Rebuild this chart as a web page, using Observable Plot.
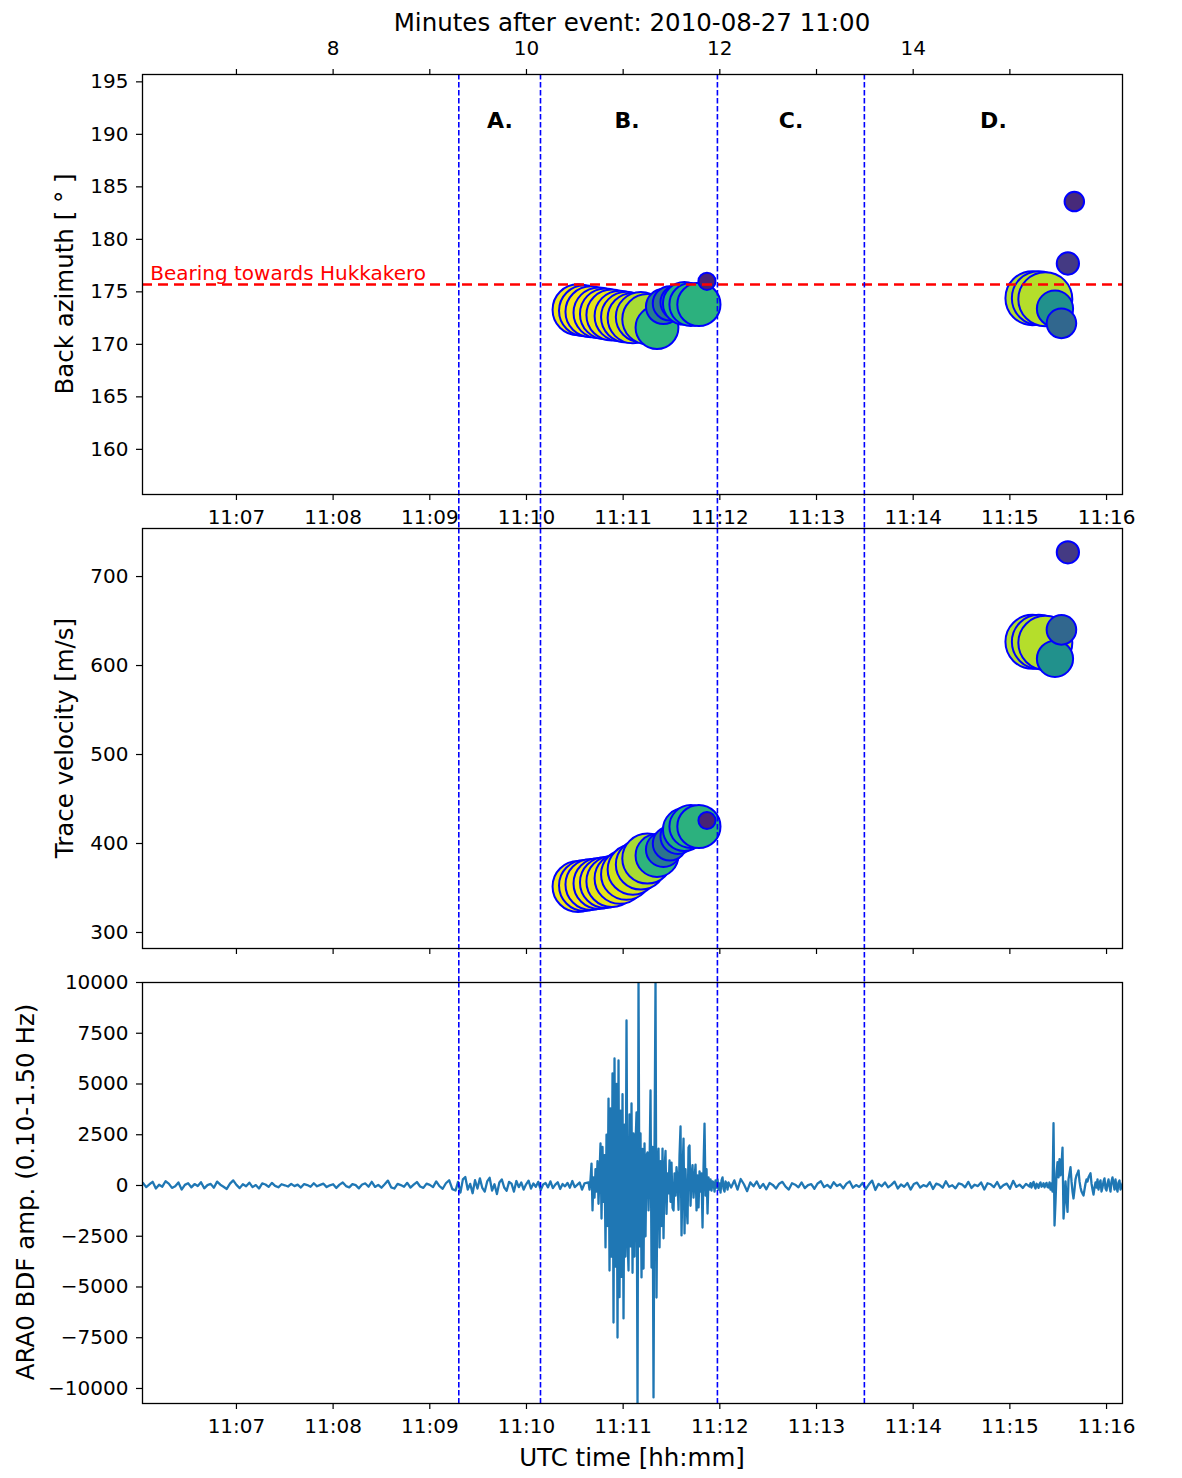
<!DOCTYPE html>
<html><head><meta charset="utf-8">
<script src="https://cdn.jsdelivr.net/npm/d3@7"></script>
<script src="https://cdn.jsdelivr.net/npm/@observablehq/plot@0.6"></script>
<style>
body{margin:0;background:#fff;}
#wrap{position:relative;width:1182px;height:1478px;font-family:"DejaVu Sans",sans-serif;background:#fff;}
#wrap svg{position:absolute;left:0;}
</style></head><body><div id="wrap"></div>
<script>
// ---------- data ----------
const eventLabel = "Minutes after event: 2010-08-27 11:00";
const xStart = "11:06:01.7", xEnd = "11:16:09.9";
const minuteTicks = ["11:07","11:08","11:09","11:10","11:11","11:12","11:13","11:14","11:15","11:16"];
const topTicks = ["11:07","11:08","11:09","11:10","11:11","11:12","11:13","11:14","11:15"];
const regionBounds = ["11:09:18","11:10:08.7","11:11:58.5","11:13:29.7"];
const regionNames = ["A.","B.","C.","D."];
const regionLabelTimes = ["11:09:43.5","11:11:02.4","11:12:44.2","11:14:49.8"];
const regionLabelBaz = 191.3;
const bearing = 175.7;
const bearingText = "Bearing towards Hukkakero";
const bearingTextTime = "11:06:06.5";

const bazTicks = [160,165,170,175,180,185,190,195];
const velTicks = [300,400,500,600,700];
const ampTicks = [-10000,-7500,-5000,-2500,0,2500,5000,7500,10000];

// detections (group B then group D)
const detTimes = ["11:10:32","11:10:36","11:10:40","11:10:45","11:10:49","11:10:53","11:10:58","11:11:02","11:11:06","11:11:11","11:11:15","11:11:21","11:11:25","11:11:29","11:11:34","11:11:38","11:11:42","11:11:47","11:11:52",
  "11:15:14","11:15:18","11:15:22","11:15:28","11:15:32","11:15:36","11:15:40"];
const detBaz = [173.3,173.2,173.1,173.0,172.9,172.8,172.7,172.6,172.5,172.6,172.4,171.6,173.6,173.9,174.0,173.9,173.8,173.8,176.0,
  174.4,174.4,174.3,173.4,172.0,177.7,183.6];
const detVel = [351.7,352.8,353.9,355.1,356.2,357.3,360.7,365.2,370.8,376.4,383.1,386.5,393.3,400.0,407.9,415.7,419.1,419.1,425.8,
  626.6,626.6,625.5,607.5,640.1,727.3,null];
const detCorr = [0.97,0.98,0.98,0.97,0.97,0.96,0.96,0.95,0.93,0.90,0.87,0.65,0.42,0.38,0.45,0.62,0.63,0.64,0.10,
  0.88,0.89,0.89,0.50,0.33,0.17,0.12];
const detPower = [0.89,0.89,0.89,0.89,0.89,0.89,0.88,0.88,0.87,0.86,0.86,0.63,0.42,0.40,0.42,0.63,0.63,0.64,0.10,
  1.0,1.0,1.0,0.45,0.30,0.17,0.13];

// waveform segments: [start, end] and values
const wave1Span = ["11:06:02","11:09:14"];
const wave1 = [120,-80,60,180,-150,40,-60,210,90,-120,-40,150,-200,30,110,-90,70,-30,160,-140,20,80,-110,190,40,-60,-170,90,250,30,-130,60,-40,140,-80,20,-150,100,50,-70,130,-20,-90,60,10,-50,80,-30,40,-100,70,20,-60,110,-40,30,90,-80,10,60,-120,40,150,-30,-90,70,20,-140,50,100,-60,180,-70,30,-110,60,240,-90,-150,80,20,-60,130,-100,40,170,-50,-120,90,30,-80,200,-30,-160,110,260,-180];
const wave2Span = ["11:09:16","11:10:36"];
const wave2 = [-250,180,-350,300,420,-200,80,-380,260,-150,350,-120,-300,200,380,-250,60,-420,150,300,-100,-260,180,90,-300,220,-80,150,-200,60,240,-150,100,-60,180,-220,50,120,-90,200,-130,40,160,-170,70,-40,130,-110,220,-80,30,150,-200,100];
const wave3Span = ["11:10:38.5","11:12:05.4"];
const wave3 = [150,-200,300,1080,-1230,400,-600,800,-300,1200,-900,600,2070,-1630,1900,-800,1500,-3050,2500,-2000,
  4280,-4190,3800,-3500,5520,-6750,6260,-4000,5000,-7490,6160,-5500,3690,-4500,4500,-6550,3000,-3500,8130,-2500,
  -4190,3500,-3000,4040,-4300,2560,-3500,2000,3600,-10800,10100,-3000,2560,-4530,1800,-4090,2070,-2500,1500,1630,
  -1230,800,4680,-4040,1900,-10440,1700,10100,-5520,1000,1820,-3050,1200,-2000,1820,-2600,800,1700,-1400,600,
  -390,1230,-800,1130,-1100,-1230,600,-500,900,250,-1200,1500,2910,-2460,500,2310,-2360,800,-900,-1870,
  1870,1970,-1000,400,1000,-600,300,1030,-1230,500,-1080,700,-300,600,-2070,900,3050,-500,800,-1380,
  400,-200,300,-250,200,150,-300,250,-100,300,-200,100,-350,250,400,-150,-300,200,100,-200,150];
const wave4Span = ["11:12:07","11:15:10"];
const wave4 = [-100,250,-200,320,60,-280,150,-40,200,-120,80,-190,120,30,-150,90,180,-60,-200,110,40,-90,150,-130,20,70,-160,100,210,-80,30,-120,160,-30,60,-140,90,200,-110,20,-70,130,-180,60,240,-220,80,-40,150,-90,30,190,-150,50,-60,120,-200,70,140,-100,20,-50,160,-170,90,30,-110,210,-60,10,-140,100,60,-90,180,-120,40,-30,150,-200,110,60,-80,170,-130,20,90,-160,230,-70,40,-120,80];
const wave5Span = ["11:15:12.2","11:16:09.9"];
const wave5 = [-50,120,-100,60,180,-40,-150,90,30,-120,80,150,-60,-20,110,-90,40,130,-70,
  -100,150,-200,100,-300,3070,-1970,-800,600,1150,400,1300,500,1000,1870,-1630,-900,200,-600,-1300,
  300,600,900,200,-300,-640,-200,300,500,600,740,200,-100,-300,-400,-490,-200,100,300,200,
  400,500,600,100,-200,-450,-100,150,-100,300,-200,100,250,-300,-100,200,350,-150,-250,100,
  300,-50,-300,200,400,100,-200,300,-100,-300,150,250,-200,-100,100];

// ---------- build ----------
const parseT = s => { const [h,m,sec] = s.split(":").map(Number); return new Date(Date.UTC(2010,7,27,h,m) + (sec||0)*1000); };
const xDomain = [parseT(xStart), parseT(xEnd)];
const dets = detTimes.map((t,i)=>({t: parseT(t), baz: detBaz[i], vel: detVel[i], corr: detCorr[i], power: detPower[i]}));
function segRows(span, vals){ const t0=+parseT(span[0]), t1=+parseT(span[1]); const n=vals.length; return vals.map((v,i)=>({t:new Date(t0+(t1-t0)*i/(n-1)), v})); }
const wave = [].concat(segRows(wave1Span,wave1), segRows(wave2Span,wave2), segRows(wave3Span,wave3), segRows(wave4Span,wave4), segRows(wave5Span,wave5));
const bounds = regionBounds.map(parseT);
const regionLabels = regionNames.map((n,i)=>({name:n, t:parseT(regionLabelTimes[i])}));
const mTicks = minuteTicks.map(parseT);
const tTicks = topTicks.map(parseT);
const fmtHM = d3.utcFormat("%H:%M");
const minus = d => d < 0 ? "\u2212" + (-d) : String(d);

const W = 1182;
const style = {fontFamily:"DejaVu Sans", fontSize:"20px", background:"none", color:"black", overflow:"hidden"};
const common = {width:W, marginLeft:142, marginRight:60, style, x:{type:"utc", domain:xDomain}};
const rScale = {type:"sqrt", domain:[0,1], range:[0,27]};
const cScale = {type:"linear", scheme:"viridis", domain:[0,1]};
const axOpts = {tickSize:6, strokeWidth:1.2, fontSize:20, label:null};
const vlineStyle = {stroke:"blue", strokeWidth:1.6, strokeDasharray:"5.5,2.5"};

const p1 = Plot.plot({
  ...common, height:532, marginTop:74, marginBottom:38,
  y:{domain:[155.7,195.7]}, r:rScale, color:cScale,
  marks:[
    Plot.dot(dets, {x:"t", y:"baz", r:"power", fill:"corr", stroke:"blue", strokeWidth:2, sort:null}),
    Plot.ruleY([bearing], {stroke:"red", strokeWidth:2.6, strokeDasharray:"10,6"}),
    Plot.text([bearingText], {x:()=>parseT(bearingTextTime), y:()=>bearing, text:d=>d, fill:"red", textAnchor:"start", dy:-11, fontSize:20}),
    Plot.text(regionLabels, {x:"t", y:()=>regionLabelBaz, text:"name", fontWeight:"bold", fontSize:22}),
    Plot.ruleX(bounds, {x:d=>d, y1:195.7, y2:152.46, ...vlineStyle}),
    Plot.frame({stroke:"black", strokeWidth:1.3}),
    Plot.axisX({...axOpts, anchor:"bottom", ticks:mTicks, tickFormat:fmtHM, tickPadding:9}),
    Plot.axisX({...axOpts, anchor:"top", ticks:tTicks, tickFormat:d=>d.getUTCMinutes()%2===0?String(d.getUTCMinutes()):"", tickPadding:14}),
    Plot.axisY({...axOpts, ticks:bazTicks, tickPadding:8})
  ]
});
const p2 = Plot.plot({
  ...common, height:462, marginTop:4, marginBottom:38,
  y:{domain:[282,754]}, r:rScale, color:cScale,
  marks:[
    Plot.dot(dets, {x:"t", y:"vel", r:"power", fill:"corr", stroke:"blue", strokeWidth:2, sort:null}),
    Plot.ruleX(bounds, {x:d=>d, y1:754, y2:243.8, ...vlineStyle}),
    Plot.frame({stroke:"black", strokeWidth:1.3}),
    Plot.axisX({...axOpts, anchor:"bottom", ticks:mTicks, tickFormat:()=>""}),
    Plot.axisY({...axOpts, ticks:velTicks, tickPadding:8})
  ]
});
const p3 = Plot.plot({
  ...common, height:518, marginTop:22, marginBottom:75,
  y:{domain:[-10740,10000]},
  marks:[
    Plot.line(wave, {x:"t", y:"v", stroke:"#1f77b4", strokeWidth:2.3, clip:true}),
    Plot.ruleX(bounds, {x:d=>d, y1:10000, y2:-10740, ...vlineStyle}),
    Plot.frame({stroke:"black", strokeWidth:1.3}),
    Plot.axisX({...axOpts, anchor:"bottom", ticks:mTicks, tickFormat:fmtHM, tickPadding:9}),
    Plot.axisY({...axOpts, ticks:ampTicks, tickFormat:minus, tickPadding:8})
  ]
});

const wrap = document.getElementById("wrap");
[[p1,0],[p2,524],[p3,960]].forEach(([s,top])=>{ s.style.position="absolute"; s.style.top=top+"px"; s.style.left="0px"; wrap.appendChild(s); });

// overlay titles / axis labels
const ov = d3.select(wrap).append("svg").attr("width",W).attr("height",1478)
  .style("position","absolute").style("top","0px").style("left","0px")
  .attr("font-family","DejaVu Sans").attr("font-size",24.5).attr("fill","black");
ov.append("text").attr("x",632).attr("y",22).attr("text-anchor","middle").attr("dominant-baseline","central").text(eventLabel);
ov.append("text").attr("x",632).attr("y",1457).attr("text-anchor","middle").attr("dominant-baseline","central").text("UTC time [hh:mm]");
[["Back azimuth [ \u00b0 ]",64,284],["Trace velocity [m/s]",64,738],["ARA0 BDF amp. (0.10-1.50 Hz)",25,1192]].forEach(([t,x,y])=>{
  ov.append("text").attr("transform",`translate(${x},${y}) rotate(-90)`).attr("text-anchor","middle").attr("dominant-baseline","central").text(t);
});
</script>
</body></html>
